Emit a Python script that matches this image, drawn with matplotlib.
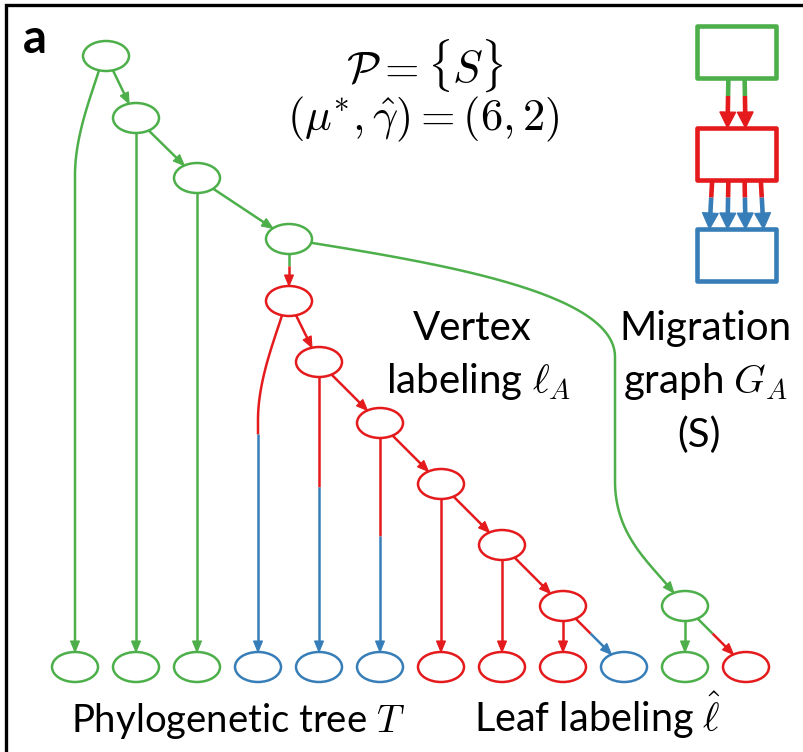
import numpy as np
import matplotlib
matplotlib.use("Agg")
import matplotlib.pyplot as plt
from matplotlib.patches import Ellipse, Polygon, Rectangle

plt.rcParams['font.family'] = ['Lato', 'DejaVu Sans']
plt.rcParams['mathtext.fontset'] = 'cm'

GREEN = "#4daf4a"
RED = "#e41a1c"
BLUE = "#377eb8"
colmap = {"G": GREEN, "R": RED, "B": BLUE}

# internal vertices of the tree (pixel layout, y down)
inner_names = ["g0", "g1", "g2", "g3", "r0", "r1", "r2", "r3", "r4", "r5", "g5"]
inner_x = [106, 136, 197, 289, 289, 319, 380, 441, 502, 563, 685]
inner_y = [56, 118, 178, 239, 301, 362, 423, 484, 545, 606, 606]
inner_lab = ["G", "G", "G", "G", "R", "R", "R", "R", "R", "R", "G"]

# leaves
leaf_x = [75, 136, 197, 258, 319, 380, 441, 502, 563, 624, 685, 746]
leaf_y = 667
leaf_lab = ["G", "G", "G", "B", "B", "B", "R", "R", "R", "B", "G", "R"]

# edges (parent, child, routing)
edges = [("g0", "L0", "bend"), ("g0", "g1", "line"), ("g1", "L1", "line"),
         ("g1", "g2", "line"), ("g2", "L2", "line"), ("g2", "g3", "line"),
         ("g3", "r0", "line"), ("g3", "g5", "sweep"), ("r0", "L3", "bend"),
         ("r0", "r1", "line"), ("r1", "L4", "line"), ("r1", "r2", "line"),
         ("r2", "L5", "line"), ("r2", "r3", "line"), ("r3", "L6", "line"),
         ("r3", "r4", "line"), ("r4", "L7", "line"), ("r4", "r5", "line"),
         ("r5", "L8", "line"), ("r5", "L9", "line"), ("g5", "L10", "line"),
         ("g5", "L11", "line")]
# where the colour changes along two-coloured edges (fraction of length)
split_frac = {("g3", "r0"): 0.36, ("r0", "L3"): 0.36, ("r1", "L4"): 0.40,
              ("r2", "L5"): 0.46, ("r5", "L9"): 0.42, ("g5", "L11"): 0.42}

# migration graph
box_lab = ["G", "R", "B"]
box_top = [26, 128, 229]
mig_counts = [2, 4]   # number of migrations G->R, R->B

RX, RY = 23, 15


def node_pos(name):
    if name.startswith("L"):
        i = int(name[1:])
        return np.array([leaf_x[i], leaf_y], float), leaf_lab[i]
    i = inner_names.index(name)
    return np.array([inner_x[i], inner_y[i]], float), inner_lab[i]


def boundary(c, d):
    d = np.asarray(d, float)
    t = 1.0 / np.sqrt((d[0] / RX) ** 2 + (d[1] / RY) ** 2)
    return c + t * d


def cubic(p0, p1, p2, p3, n=60):
    t = np.linspace(0, 1, n)[:, None]
    p0, p1, p2, p3 = [np.asarray(p, float) for p in (p0, p1, p2, p3)]
    return (1 - t) ** 3 * p0 + 3 * (1 - t) ** 2 * t * p1 + 3 * (1 - t) * t ** 2 * p2 + t ** 3 * p3


def sub(pts, s, a, b):
    m = (s > a) & (s < b)
    pa = [np.interp(a, s, pts[:, 0]), np.interp(a, s, pts[:, 1])]
    pb = [np.interp(b, s, pts[:, 0]), np.interp(b, s, pts[:, 1])]
    return np.vstack([pa, pts[m], pb])


def draw_edge(ax, pts, c1, c2, frac=None, ah_len=11, ah_w=4.5, lw=1.8):
    seg = np.diff(pts, axis=0)
    s = np.concatenate([[0], np.cumsum(np.hypot(seg[:, 0], seg[:, 1]))])
    L = s[-1]
    tip = pts[-1]
    k = np.searchsorted(s, L - ah_len)
    u = tip - pts[max(k - 1, 0)]
    u = u / np.hypot(*u)
    stop = L - ah_len + 1
    if frac is None:
        p = sub(pts, s, 0, stop)
        ax.plot(p[:, 0], p[:, 1], color=c1, lw=lw, solid_capstyle='butt')
    else:
        p = sub(pts, s, 0, frac * L)
        ax.plot(p[:, 0], p[:, 1], color=c1, lw=lw, solid_capstyle='butt')
        p = sub(pts, s, frac * L, stop)
        ax.plot(p[:, 0], p[:, 1], color=c2, lw=lw, solid_capstyle='butt')
    base = tip - ah_len * u
    n = np.array([-u[1], u[0]])
    ax.add_patch(Polygon([tip, base + ah_w * n, base - ah_w * n], closed=True,
                         facecolor=c2, edgecolor=c2, lw=0.8))


fig = plt.figure(figsize=(8.04, 7.52), dpi=100)
ax = fig.add_axes([0, 0, 1, 1])
ax.set_xlim(0, 804)
ax.set_ylim(752, 0)
ax.axis('off')

# frame (only top and left are inside the picture)
ax.plot([6, 6, 804], [752, 5, 5], color='black', lw=2.4, solid_joinstyle='miter')

# tree edges
for par, chi, kind in edges:
    p, pc = node_pos(par)
    c, cc = node_pos(chi)
    if kind == "line":
        pts = np.vstack([boundary(p, c - p), boundary(c, p - c)])
        pts = np.vstack([np.linspace(pts[0], pts[1], 30)])
    elif kind == "bend":
        start = np.array([p[0] - 7, p[1] + RY * np.sqrt(1 - (7 / RX) ** 2)])
        knee = np.array([c[0], p[1] + 119])
        curve = cubic(start, [p[0] - 15, p[1] + 40], [c[0], p[1] + 80], knee)
        pts = np.vstack([curve, np.linspace(knee, [c[0], c[1] - RY], 40)[1:]])
    else:
        start = boundary(p, [1, 0.17])
        xr = c[0] - 70
        c1 = cubic(start, [p[0] + 160, p[1] + 26], [xr, p[1] + 55], [xr, p[1] + 118])
        end = boundary(c, [-28, -33])
        c2 = cubic([xr, c[1] - 125], [xr, c[1] - 70], end - [24, 30], end)
        pts = np.vstack([c1, np.linspace([xr, p[1] + 118], [xr, c[1] - 125], 30)[1:-1], c2])
    draw_edge(ax, pts, colmap[pc], colmap[cc], split_frac.get((par, chi)))

# tree vertices
for x, y, lab in zip(inner_x, inner_y, inner_lab):
    ax.add_patch(Ellipse((x, y), 2 * RX, 2 * RY, facecolor='white',
                         edgecolor=colmap[lab], lw=1.8))
for x, lab in zip(leaf_x, leaf_lab):
    ax.add_patch(Ellipse((x, leaf_y), 2 * RX, 2 * RY, facecolor='white',
                         edgecolor=colmap[lab], lw=1.8))

# migration graph
bx0, bx1, bh = 697, 776, 52
bcx = (bx0 + bx1) / 2
for i, k in enumerate(mig_counts):
    y0 = box_top[i] + bh
    y1 = box_top[i + 1]
    offs = (np.arange(k) - (k - 1) / 2) * 18
    for o in offs:
        pts = np.linspace([bcx + o * 0.9, y0], [bcx + o, y1], 30)
        draw_edge(ax, pts, colmap[box_lab[i]], colmap[box_lab[i + 1]], 0.36,
                  ah_len=16, ah_w=8, lw=3.3)
for t, lab in zip(box_top, box_lab):
    ax.add_patch(Rectangle((bx0, t), bx1 - bx0, bh, facecolor='none',
                           edgecolor=colmap[lab], lw=3.3, joinstyle='round'))

# texts
FS = 29
ax.text(23, 53, "a", fontsize=34, fontweight='bold', ha='left', va='baseline')
ax.text(425, 66, r"$\mathcal{P} = \{S\}$", fontsize=32, ha='center', va='center')
ax.text(423, 119, r"$(\mu^{*}, \hat{\gamma}) = (6, 2)$", fontsize=32, ha='center', va='center')
ax.text(472, 340, "Vertex", fontsize=FS, ha='center', va='baseline')
ax.text(479, 393, r"labeling $\ell_A$", fontsize=FS, ha='center', va='baseline')
ax.text(705, 340, "Migration", fontsize=FS, ha='center', va='baseline')
ax.text(705, 393, r"graph $G_A$", fontsize=FS, ha='center', va='baseline')
ax.text(699, 447, "(S)", fontsize=FS, ha='center', va='baseline')
ax.text(71, 732, r"Phylogenetic tree $T$", fontsize=27.5, ha='left', va='baseline')
ax.text(474, 732, r"Leaf labeling $\hat{\ell}$", fontsize=28.5, ha='left', va='baseline')

fig.savefig("out.png", dpi=100)
